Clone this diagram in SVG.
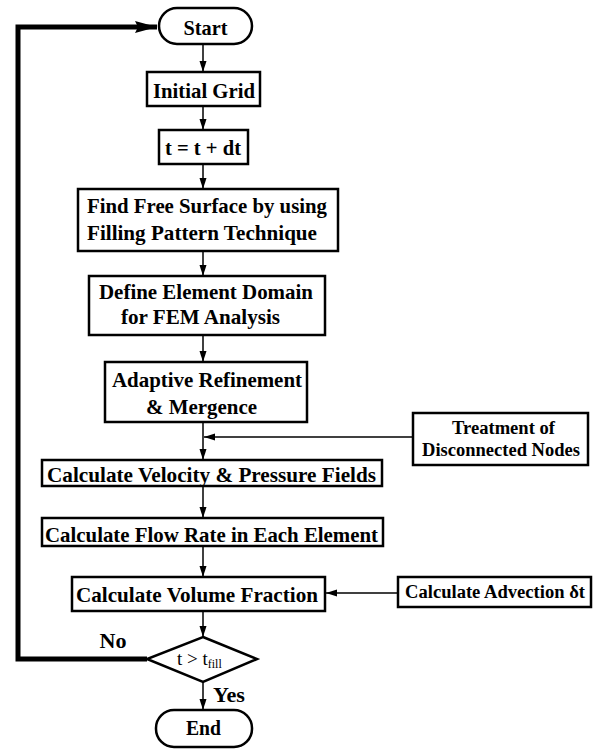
<svg xmlns="http://www.w3.org/2000/svg" width="595" height="749" viewBox="0 0 595 749">
<style>
.box{fill:#fff;stroke:#000;stroke-width:2.5}
.t{font-family:"Liberation Serif","Times New Roman",serif;font-weight:bold;font-size:21px;fill:#000;text-anchor:middle}
.s{font-size:18px}
.ln{fill:none;stroke:#000;stroke-width:1.5}
.thick{fill:none;stroke:#000;stroke-width:5}
</style>
<defs>
<marker id="ar" markerUnits="userSpaceOnUse" markerWidth="12" markerHeight="8" refX="11" refY="3.5" orient="auto">
<path d="M0,0 L11,3.5 L0,7 z" fill="#000"/>
</marker>
<marker id="arBig" markerUnits="userSpaceOnUse" markerWidth="24" markerHeight="14" refX="22" refY="6" orient="auto">
<path d="M0,0 L22,6 L0,12 L3,6 z" fill="#000"/>
</marker>
</defs>
<g id="connectors">
<line class="ln" x1="203" y1="44" x2="203" y2="72" marker-end="url(#ar)"/>
<line class="ln" x1="203" y1="106" x2="203" y2="130" marker-end="url(#ar)"/>
<line class="ln" x1="203" y1="164" x2="203" y2="189" marker-end="url(#ar)"/>
<line class="ln" x1="203" y1="251" x2="203" y2="276" marker-end="url(#ar)"/>
<line class="ln" x1="203" y1="335" x2="203" y2="362" marker-end="url(#ar)"/>
<line class="ln" x1="203" y1="422" x2="203" y2="460" marker-end="url(#ar)"/>
<line class="ln" x1="413" y1="437" x2="204" y2="437" marker-end="url(#ar)"/>
<line class="ln" x1="203" y1="486" x2="203" y2="518" marker-end="url(#ar)"/>
<line class="ln" x1="203" y1="546" x2="203" y2="577" marker-end="url(#ar)"/>
<line class="ln" x1="398" y1="593" x2="326" y2="593" marker-end="url(#ar)"/>
<line class="ln" x1="203" y1="611" x2="203" y2="637" marker-end="url(#ar)"/>
<line class="ln" x1="203" y1="682" x2="203" y2="710" marker-end="url(#ar)"/>
<polyline class="thick" points="147,659 18,659 18,27 157,27" marker-end="url(#arBig)"/>
<text class="t" x="113" y="648" textLength="27" lengthAdjust="spacingAndGlyphs">No</text>
<text class="t" x="229" y="702" textLength="32" lengthAdjust="spacingAndGlyphs">Yes</text>
</g>
<g id="start">
<rect class="box" x="159" y="8" width="93" height="36" rx="18" ry="18" stroke-width="1.5"/>
<text class="t" x="205.5" y="35" textLength="44" lengthAdjust="spacingAndGlyphs">Start</text>
</g>
<g id="initial-grid">
<rect class="box" x="147" y="72" width="113" height="34"/>
<text class="t" x="204" y="98" textLength="102" lengthAdjust="spacingAndGlyphs">Initial Grid</text>
</g>
<g id="t-update">
<rect class="box" x="159" y="130" width="89" height="34"/>
<text class="t" x="203" y="155" textLength="76" lengthAdjust="spacingAndGlyphs">t = t + dt</text>
</g>
<g id="find-free-surface">
<rect class="box" x="78" y="189" width="260" height="62"/>
<text class="t" x="207" y="213" textLength="240" lengthAdjust="spacingAndGlyphs">Find Free Surface by using</text>
<text class="t" x="202" y="240" textLength="230" lengthAdjust="spacingAndGlyphs">Filling Pattern Technique</text>
</g>
<g id="define-domain">
<rect class="box" x="89" y="276" width="236" height="59"/>
<text class="t" x="206" y="299" textLength="214" lengthAdjust="spacingAndGlyphs">Define Element Domain</text>
<text class="t" x="200.5" y="324" textLength="159" lengthAdjust="spacingAndGlyphs">for FEM Analysis</text>
</g>
<g id="adaptive">
<rect class="box" x="105" y="362" width="202" height="60"/>
<text class="t" x="207" y="387" textLength="190" lengthAdjust="spacingAndGlyphs">Adaptive Refinement</text>
<text class="t" x="201.5" y="414" textLength="111" lengthAdjust="spacingAndGlyphs">&amp; Mergence</text>
</g>
<g id="treatment">
<rect class="box" x="413" y="413" width="175" height="52"/>
<text class="t s" x="503.5" y="434" textLength="103" lengthAdjust="spacingAndGlyphs">Treatment of</text>
<text class="t s" x="501" y="456" textLength="158" lengthAdjust="spacingAndGlyphs">Disconnected Nodes</text>
</g>
<g id="velocity">
<rect class="box" x="42" y="460" width="340" height="26"/>
<text class="t" x="211.5" y="482" textLength="329" lengthAdjust="spacingAndGlyphs">Calculate Velocity &amp; Pressure Fields</text>
</g>
<g id="flow-rate">
<rect class="box" x="42" y="518" width="341" height="28"/>
<text class="t" x="211.5" y="542" textLength="333" lengthAdjust="spacingAndGlyphs">Calculate Flow Rate in Each Element</text>
</g>
<g id="volume-fraction">
<rect class="box" x="72" y="577" width="253" height="34"/>
<text class="t" x="197" y="602" textLength="242" lengthAdjust="spacingAndGlyphs">Calculate Volume Fraction</text>
</g>
<g id="advection">
<rect class="box" x="398" y="577" width="193" height="30"/>
<text class="t s" x="495" y="598" textLength="180" lengthAdjust="spacingAndGlyphs">Calculate Advection δt</text>
</g>
<g id="decision">
<polygon class="box" points="203,637 257,659 203,682 147,659" stroke-width="2"/>
<text class="t" x="177" y="665" style="text-anchor:start;font-weight:normal;font-size:19px">t &gt; t<tspan font-size="12" dy="3">fill</tspan></text>
</g>
<g id="end">
<rect class="box" x="156" y="710" width="96" height="37" rx="18" ry="18" stroke-width="1.5"/>
<text class="t" x="203.5" y="735" textLength="35" lengthAdjust="spacingAndGlyphs">End</text>
</g>
</svg>
